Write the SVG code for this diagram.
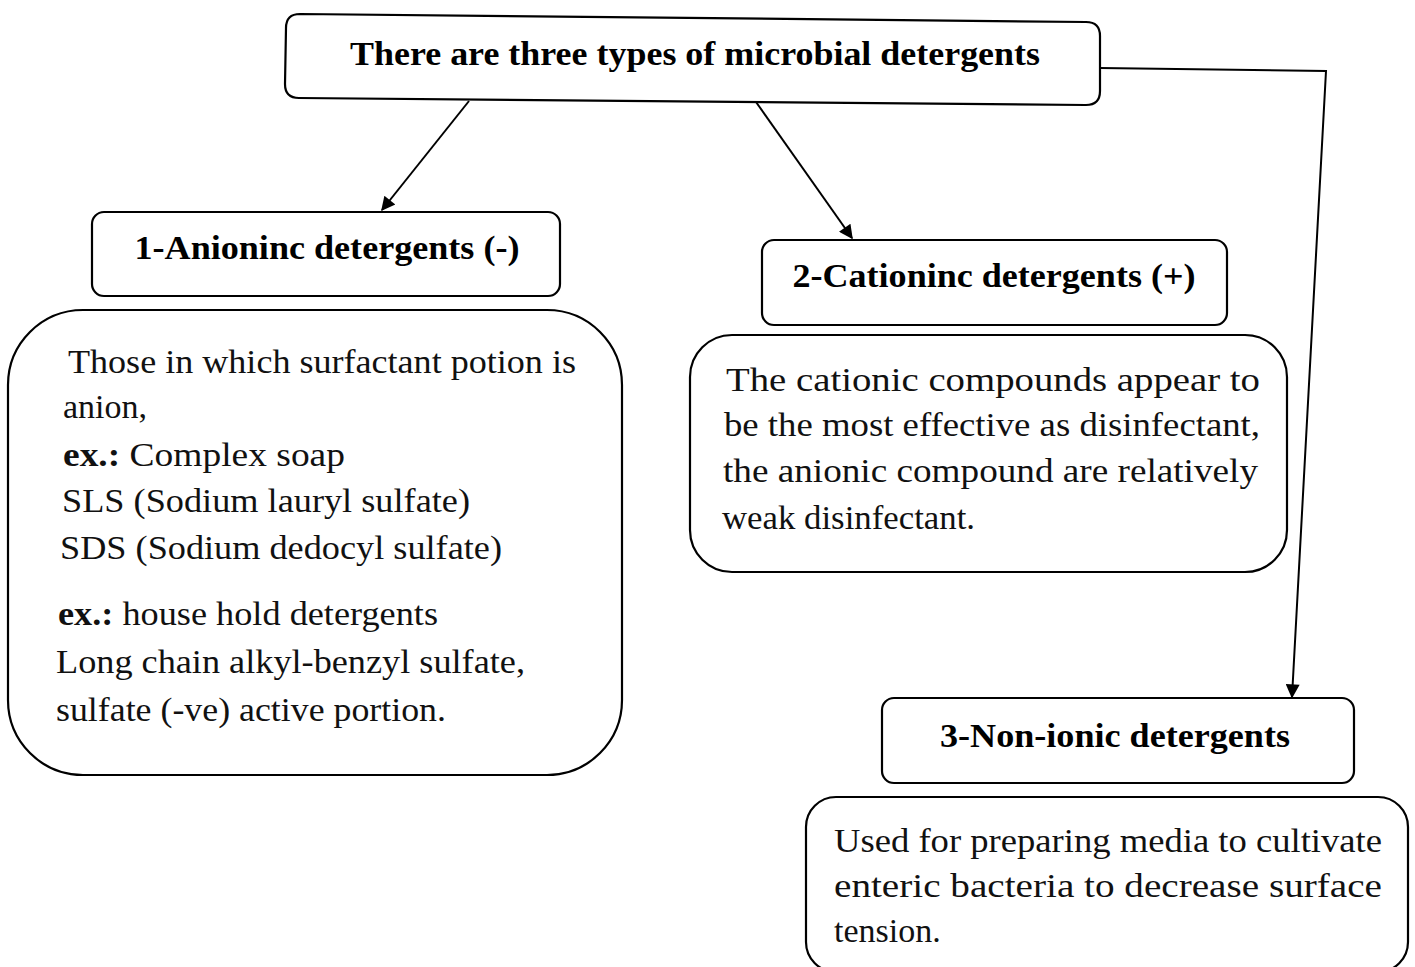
<svg xmlns="http://www.w3.org/2000/svg" width="1415" height="967" viewBox="0 0 1415 967">
<defs>
<style>
.box{fill:none;stroke:#000;stroke-width:2.2}
.hd{font-family:"Liberation Serif","Times New Roman",serif;font-weight:bold;font-size:33px;fill:#000}
.bd{font-family:"Liberation Serif","Times New Roman",serif;font-size:34px;fill:#111}
.b{font-weight:bold}
.conn{fill:none;stroke:#000;stroke-width:2}
</style>
<marker id="ahb" viewBox="0 0 10 10" refX="9" refY="5" markerWidth="18" markerHeight="14" markerUnits="userSpaceOnUse" orient="auto">
<path d="M0,0 L10,5 L0,10 z" fill="#000"/>
</marker>
</defs>
<rect width="1415" height="967" fill="#fff"/>

<g id="connectors">
<path class="conn" d="M469,101 L382,210" marker-end="url(#ahb)"/>
<path class="conn" d="M756,102 L852,238" marker-end="url(#ahb)"/>
<path class="conn" d="M1100,68 L1326,71 L1292,697" marker-end="url(#ahb)"/>
</g>

<g id="root">
<path class="box" d="M300,14 L1086,22 Q1100,22 1100,36 L1100,91 Q1100,105 1086,105 L299,98 Q285,98 285,84 L286,28 Q286,14 300,14 Z"/>
<text class="hd" x="695" y="65" text-anchor="middle" font-size="37" textLength="690" lengthAdjust="spacingAndGlyphs">There are three types of microbial detergents</text>
</g>

<g id="anionic">
<rect class="box" x="92" y="212" width="468" height="84" rx="12"/>
<text class="hd" x="327" y="259" text-anchor="middle" textLength="385" lengthAdjust="spacingAndGlyphs">1-Anioninc detergents (-)</text>
</g>

<g id="anionic-desc">
<rect class="box" x="8" y="310" width="614" height="465" rx="75"/>
<text class="bd" x="68" y="373" textLength="508" lengthAdjust="spacingAndGlyphs">Those in which surfactant potion is</text>
<text class="bd" x="63" y="418">anion,</text>
<text class="bd" x="63" y="466" textLength="282" lengthAdjust="spacingAndGlyphs"><tspan class="b">ex.:</tspan>  Complex soap</text>
<text class="bd" x="62" y="512" textLength="408" lengthAdjust="spacingAndGlyphs">SLS (Sodium lauryl sulfate)</text>
<text class="bd" x="60" y="559" textLength="442" lengthAdjust="spacingAndGlyphs">SDS (Sodium dedocyl sulfate)</text>
<text class="bd" x="58" y="625" textLength="380" lengthAdjust="spacingAndGlyphs"><tspan class="b">ex.:</tspan> house hold detergents</text>
<text class="bd" x="56" y="673" textLength="469" lengthAdjust="spacingAndGlyphs">Long chain alkyl-benzyl sulfate,</text>
<text class="bd" x="56" y="721" textLength="390" lengthAdjust="spacingAndGlyphs">sulfate (-ve) active portion.</text>
</g>

<g id="cationic">
<rect class="box" x="762" y="240" width="465" height="85" rx="12"/>
<text class="hd" x="994" y="287" text-anchor="middle" textLength="403" lengthAdjust="spacingAndGlyphs">2-Cationinc detergents (+)</text>
</g>

<g id="cationic-desc">
<rect class="box" x="690" y="335" width="597" height="237" rx="42"/>
<text class="bd" x="726" y="391" textLength="534" lengthAdjust="spacingAndGlyphs">The cationic compounds appear to</text>
<text class="bd" x="724" y="436" textLength="536" lengthAdjust="spacingAndGlyphs">be the most effective as disinfectant,</text>
<text class="bd" x="723" y="482" textLength="535" lengthAdjust="spacingAndGlyphs">the anionic compound are relatively</text>
<text class="bd" x="722" y="529" textLength="253" lengthAdjust="spacingAndGlyphs">weak disinfectant.</text>
</g>

<g id="nonionic">
<rect class="box" x="882" y="698" width="472" height="85" rx="12"/>
<text class="hd" x="1115" y="747" text-anchor="middle" textLength="350" lengthAdjust="spacingAndGlyphs">3-Non-ionic detergents</text>
</g>

<g id="nonionic-desc">
<rect class="box" x="806" y="797" width="602" height="175" rx="30"/>
<text class="bd" x="834" y="852" textLength="548" lengthAdjust="spacingAndGlyphs">Used for preparing media to cultivate</text>
<text class="bd" x="834" y="897" textLength="548" lengthAdjust="spacingAndGlyphs">enteric bacteria to decrease surface</text>
<text class="bd" x="834" y="942">tension.</text>
</g>
</svg>
